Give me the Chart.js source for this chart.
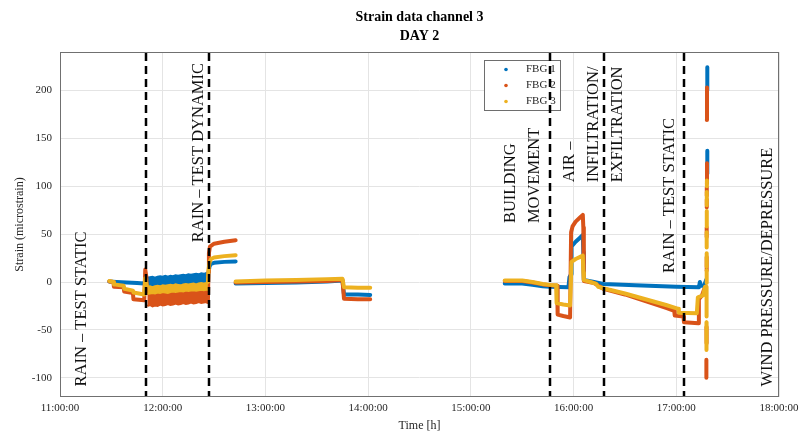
<!DOCTYPE html>
<html>
<head>
<meta charset="utf-8">
<script src="https://cdn.jsdelivr.net/npm/chart.js@4.4.1/dist/chart.umd.min.js"></script>
<style>
    html, body { margin: 0; padding: 0; background: #fff; }
    #wrap { width: 800px; height: 437px; }
</style>
</head>
<body>
<div id="wrap"><canvas id="myChart" width="800" height="437"></canvas></div>
<script>
// eixos
var xTicks = [11, 12, 13, 14, 15, 16, 17, 18]
var xTickLabels = ['11:00:00', '12:00:00', '13:00:00', '14:00:00', '15:00:00', '16:00:00', '17:00:00', '18:00:00']
var yTicks = [-100, -50, 0, 50, 100, 150, 200]

var seriesNames = ['FBG 1', 'FBG 2', 'FBG 3']
var seriesColors = ['#0072BD', '#D95319', '#EDB120']

// [hora, strain] - null = sem leitura
var GAP = null

var fbg1 = [
    [11.48, 0.5], [11.55, 0], [11.65, -0.5], [11.75, -1], [11.82, -1.5], [11.83, 2], [11.845, 4], GAP,
    [12.445, 9], [12.455, 16], [12.47, 19], [12.5, 20], [12.6, 21], [12.71, 21.5], GAP,
    [12.71, -1.5], [13.0, -1], [13.3, -0.5], [13.6, 0.5], [13.75, 1.5], [13.765, -13], [13.9, -13], [14.02, -13.5], GAP,
    [15.33, -1.5], [15.5, -1.5], [15.6, -3], [15.7, -4.5], [15.77, -5], [15.95, -5.5], [15.96, 5], [15.975, 8],
    [15.98, 37], [16.02, 42], [16.06, 46], [16.09, 49], [16.095, 31], [16.1, 2], [16.2, 0], [16.29, -2],
    [16.6, -3.5], [17.0, -5], [17.22, -5.5], [17.23, 0], [17.24, -4], [17.27, -4], [17.29, 2], GAP,
    [17.3, 200], [17.302, 224], GAP, [17.3, 113], [17.302, 137], GAP
]

var fbg2 = [
    [11.48, 0.5], [11.52, 0], [11.525, -5], [11.62, -5.5], [11.625, -10], [11.71, -11.5], [11.715, -18], [11.82, -19],
    [11.83, 13], [11.84, 6], [11.85, -11], GAP,
    [12.44, -21], [12.445, 10], [12.45, 30], [12.46, 37], [12.5, 40], [12.6, 42], [12.71, 43.5], GAP,
    [12.71, -0.5], [13.0, 0], [13.3, 0.5], [13.6, 1], [13.75, 2], [13.765, -17.5], [13.9, -18], [14.02, -18], GAP,
    [15.33, 1], [15.5, 1], [15.6, -0.5], [15.7, -2.5], [15.77, -3.5], [15.84, -4], [15.845, -34], [15.9, -35.5], [15.966, -37],
    [15.976, 52], [15.99, 58], [16.02, 63], [16.06, 67], [16.09, 70], [16.095, 57], [16.1, 1], [16.2, -1], [16.29, -7],
    [16.5, -13], [16.7, -20], [16.9, -27], [16.98, -30], [16.985, -35], [17.07, -36], [17.075, -42], [17.215, -43],
    [17.22, -18], [17.25, -14], [17.27, -8], GAP,
    [17.297, 169], [17.299, 203], GAP, [17.298, 103], [17.299, 124], GAP, [17.297, 90], [17.297, 99], GAP,
    [17.296, 78], [17.297, 86], GAP, [17.296, 47], [17.296, 57], GAP, [17.295, 12], [17.296, 26], GAP,
    [17.294, -47], [17.295, -64], GAP, [17.293, -81], [17.293, -100], GAP
]

var fbg3 = [
    [11.48, 1], [11.52, 0], [11.525, -2.5], [11.62, -4], [11.625, -7], [11.71, -9], [11.715, -11], [11.82, -13],
    [11.83, 4], [11.845, -4], GAP,
    [12.44, 0], [12.445, 12], [12.455, 20], [12.47, 24], [12.5, 25.5], [12.6, 27], [12.71, 28], GAP,
    [12.71, 0.5], [13.0, 1.5], [13.3, 2], [13.6, 3], [13.75, 3.5], [13.765, -5.5], [13.9, -6], [14.02, -6], GAP,
    [15.33, 1.5], [15.5, 1.5], [15.6, 0], [15.7, -2], [15.77, -3], [15.83, -3.5], [15.835, -22], [15.9, -23.5], [15.966, -24.5],
    [15.98, 21], [16.02, 24], [16.06, 26], [16.09, 27.5], [16.095, 10], [16.1, 2], [16.15, 0.5], [16.22, -2], [16.24, -5],
    [16.29, -6.5], [16.5, -12], [16.7, -18], [16.9, -24], [17.02, -28], [17.025, -32], [17.2, -32.5],
    [17.21, -16], [17.26, -14], [17.28, -5], GAP,
    [17.298, 100], [17.298, 106], GAP, [17.297, 80], [17.297, 94], GAP, [17.297, 58], [17.297, 74], GAP,
    [17.296, 36], [17.296, 52], GAP, [17.296, 16], [17.296, 30], GAP, [17.296, -1], [17.296, 12], GAP,
    [17.295, -5], [17.295, -36], GAP, [17.295, -42], [17.294, -71], GAP
]

// faixa ruidosa do teste dinamico (limites superior e inferior)
var bandTimes = [11.85, 11.875, 11.9, 11.925, 11.95, 11.975, 12.0, 12.025, 12.05, 12.075, 12.1, 12.125, 12.15,
    12.175, 12.2, 12.225, 12.25, 12.275, 12.3, 12.325, 12.35, 12.375, 12.4, 12.425, 12.44]
var fbg1BandHi = [4.5, 5, 5.5, 4.5, 5.5, 6, 5.5, 6.5, 5.5, 6.5, 6, 7, 6.5, 7, 7.5, 7, 8, 7.5, 8, 8.5, 8, 9, 8.5, 9.5, 9.5]
var fbg1BandLo = [-5, -5, -5, -5, -4, -4, -4, -4, -4, -4, -3, -3, -3, -3, -3, -3, -2, -2, -2, -2, -2, -2, -1.5, -1.5, -1.5]
var fbg2BandHi = [-10.5, -10, -9.5, -10, -9, -9.5, -8.5, -9, -9.5, -8.5, -8, -8.5, -8, -7.5, -8, -7, -7.5, -7, -6.5, -7,
    -6.5, -6, -6.5, -6, -6.5]
var fbg2BandLo = [-25, -24, -25.5, -24.5, -25, -23.5, -24.5, -24, -23, -24, -23.5, -22.5, -23.5, -23, -22, -23, -22.5,
    -21.5, -22.5, -22, -21, -22, -21.5, -21, -21.5]
var fbg3BandHi = [-5, -4.5, -5.5, -4.5, -4, -4.5, -3.5, -4, -3.5, -3, -3.5, -2.5, -3, -3.5, -2.5, -2, -2.5, -2, -1.5, -2.5,
    -1.5, -1, -1.5, -1, -1.5]
var fbg3BandLo = [-12.5, -12, -11.5, -12, -11, -11.5, -10.5, -11, -11.5, -10.5, -10, -10.5, -10, -9.5, -10, -9, -9.5, -9,
    -8.5, -9, -8.5, -8, -8.5, -8, -8.5]

// eventos
var eventTimes = [11.8325, 12.451, 15.766, 16.292, 17.076]
var eventLabels = [
    { lines: ['RAIN \u2013 TEST STATIC'], t: 11.204, v: -109 },
    { lines: ['RAIN \u2013 TEST DYNAMIC'], t: 12.334, v: 41.5 },
    { lines: ['BUILDING', 'MOVEMENT'], t: 15.372, v: 61.5 },
    { lines: ['AIR \u2013', 'INFILTRATION/', 'EXFILTRATION'], t: 15.946, v: 104 },
    { lines: ['RAIN \u2013 TEST STATIC'], t: 16.92, v: 9.4 },
    { lines: ['WIND PRESSURE/DEPRESSURE'], t: 17.874, v: -109 }
]

var serif = "'Liberation Serif', 'Times New Roman', serif"
Chart.defaults.font.family = serif

function toPoints(arr) {
    var out = []
    var lastX = 0
    arr.forEach(p => {
        if (p === GAP) {
            out.push({ x: lastX, y: null })
        } else {
            lastX = p[0]
            out.push({ x: p[0], y: p[1] })
        }
    })
    return out
}

function bandPoints(vals) {
    return bandTimes.map((t, i) => ({ x: t, y: vals[i] }))
}

function lineSet(data, i) {
    return {
        label: seriesNames[i],
        data: toPoints(data),
        borderColor: seriesColors[i],
        backgroundColor: seriesColors[i],
        borderWidth: 4,
        pointRadius: 0,
        borderJoinStyle: 'round',
        borderCapStyle: 'round',
        fill: false,
        order: 3 - i
    }
}

function bandSet(vals, i, fill) {
    return {
        label: seriesNames[i] + ' band',
        data: bandPoints(vals),
        borderColor: seriesColors[i],
        backgroundColor: seriesColors[i],
        borderWidth: 2,
        pointRadius: 0,
        fill: fill ? '+1' : false,
        order: 3 - i
    }
}

var extras = {
    id: 'extras',
    afterDatasetsDraw(chart) {
        var ctx = chart.ctx
        var area = chart.chartArea
        var xs = chart.scales.x
        var ys = chart.scales.y
        ctx.save()

        // legenda
        ctx.fillStyle = '#fff'
        ctx.fillRect(484.5, 60.5, 76, 50)
        ctx.strokeStyle = '#6e6e6e'
        ctx.lineWidth = 1
        ctx.strokeRect(484.5, 60.5, 76, 50)
        ctx.font = '11px ' + serif
        ctx.textBaseline = 'middle'
        ctx.textAlign = 'left'
        seriesNames.forEach((n, i) => {
            var yy = 69.5 + i * 16
            ctx.fillStyle = seriesColors[i]
            ctx.beginPath()
            ctx.arc(506, yy, 1.8, 0, Math.PI * 2)
            ctx.fill()
            ctx.fillStyle = '#262626'
            ctx.fillText(n, 526, yy)
        })

        // linhas tracejadas dos eventos
        ctx.strokeStyle = '#000'
        ctx.lineWidth = 2.5
        ctx.setLineDash([8, 5])
        eventTimes.forEach(t => {
            var px = Math.round(xs.getPixelForValue(t))
            ctx.beginPath()
            ctx.moveTo(px, area.top + 1)
            ctx.lineTo(px, area.bottom)
            ctx.stroke()
        })
        ctx.setLineDash([])

        // textos dos eventos
        ctx.fillStyle = '#111'
        ctx.font = '16.5px ' + serif
        ctx.textBaseline = 'alphabetic'
        eventLabels.forEach(lab => {
            ctx.save()
            ctx.translate(xs.getPixelForValue(lab.t), ys.getPixelForValue(lab.v))
            ctx.rotate(-Math.PI / 2)
            lab.lines.forEach((l, i) => ctx.fillText(l, 0, i * 24 + 5.5))
            ctx.restore()
        })

        // caixa
        ctx.strokeStyle = '#707070'
        ctx.lineWidth = 1
        ctx.strokeRect(Math.round(area.left) + 0.5, Math.round(area.top) + 0.5,
            Math.round(area.right - area.left) - 1, Math.round(area.bottom - area.top) - 1)

        // titulo
        ctx.fillStyle = '#000'
        ctx.textAlign = 'center'
        ctx.textBaseline = 'middle'
        ctx.font = 'bold 14px ' + serif
        var cx = (area.left + area.right) / 2
        ctx.fillText('Strain data channel 3', cx, 17)
        ctx.fillText('DAY 2', cx, 36)
        ctx.restore()
    }
}

var myChart

function createChart() {
    var ctx = document.getElementById('myChart').getContext('2d')

    if (myChart) {
        myChart.destroy()
    }

    var datasets = [
        lineSet(fbg1, 0), bandSet(fbg1BandHi, 0, true), bandSet(fbg1BandLo, 0, false),
        lineSet(fbg2, 1), bandSet(fbg2BandHi, 1, true), bandSet(fbg2BandLo, 1, false),
        lineSet(fbg3, 2), bandSet(fbg3BandHi, 2, true), bandSet(fbg3BandLo, 2, false)
    ]

    myChart = new Chart(ctx, {
        type: 'line',
        data: { datasets: datasets },
        options: {
            responsive: false,
            animation: false,
            devicePixelRatio: 1,
            spanGaps: false,
            layout: { padding: { top: 52, right: 21, left: 0, bottom: 0 } },
            plugins: {
                legend: { display: false },
                tooltip: { enabled: false },
                title: { display: false }
            },
            scales: {
                x: {
                    type: 'linear',
                    min: 11,
                    max: 18,
                    afterFit: s => {
                        s.height = 40
                        s.paddingLeft = 0
                        s.paddingRight = 0
                    },
                    afterBuildTicks: s => { s.ticks = xTicks.map(v => ({ value: v })) },
                    ticks: {
                        callback: v => xTickLabels[xTicks.indexOf(v)],
                        padding: 5,
                        color: '#262626',
                        font: { size: 11 },
                        maxRotation: 0,
                        autoSkip: false
                    },
                    grid: { color: '#e4e4e4', drawTicks: false },
                    border: { display: false },
                    title: {
                        display: true,
                        text: 'Time [h]',
                        color: '#262626',
                        font: { size: 12 },
                        padding: { top: 0, bottom: 4 }
                    }
                },
                y: {
                    type: 'linear',
                    min: -120,
                    max: 240,
                    afterFit: s => {
                        s.width = 60
                        s.paddingTop = 0
                        s.paddingBottom = 0
                    },
                    afterBuildTicks: s => { s.ticks = yTicks.map(v => ({ value: v })) },
                    ticks: {
                        padding: 8,
                        color: '#262626',
                        font: { size: 11 }
                    },
                    grid: { color: '#e4e4e4', drawTicks: false },
                    border: { display: false },
                    title: {
                        display: true,
                        text: 'Strain (microstrain)',
                        color: '#262626',
                        font: { size: 12 },
                        padding: { top: 13, bottom: 0 }
                    }
                }
            }
        },
        plugins: [extras]
    })
}

createChart()
</script>
</body>
</html>
